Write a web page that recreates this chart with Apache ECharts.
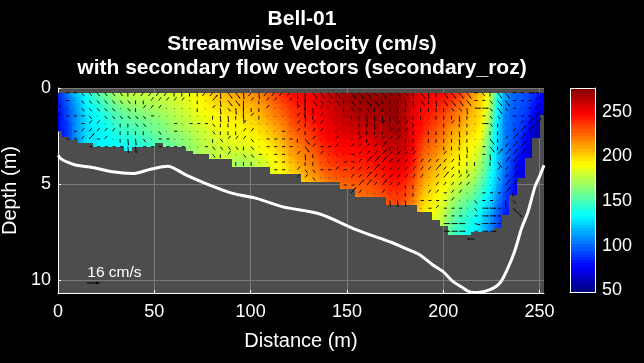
<!DOCTYPE html>
<html>
<head>
<meta charset="utf-8">
<style>html,body{margin:0;padding:0;background:#000}#c{width:644px;height:363px}</style>
<script src="https://cdn.jsdelivr.net/npm/echarts@6/dist/echarts.min.js"></script>
</head>
<body>
<div id="c"></div>
<script>
const titleLines = ["Bell-01", "Streamwise Velocity (cm/s)", "with secondary flow vectors (secondary_roz)"];
const xTicks = [0, 50, 100, 150, 200, 250];
const yTicks = [0, 5, 10];
const barTicks = [50, 100, 150, 200, 250];
const cMin = 48, cMax = 276.5;
const xMax = 252.3, yMax = 10.66;
const firstX = 0.26, stepX = 4, firstD = 0.25, stepD = 0.4, topD = 0.27;

// streamwise velocity (cm/s), one list per ensemble column, surface to bed
const speed = [
[85,82,80,78,78,78],
[100,95,92,90,88,86,85],
[118,112,108,105,104,104,104],
[130,125,122,120,120,120,120,120],
[143,138,134,130,129,128,128,128],
[152,146,140,136,133,131,130,130],
[160,153,147,142,138,135,133,132],
[168,160,153,147,143,139,136,134],
[174,167,159,152,148,143,138,135],
[178,171,163,156,151,146,140,136,136],
[178,172,166,159,154,149,143,138],
[178,174,168,162,157,152,147,142],
[179,175,170,164,160,156,151,148],
[180,176,172,168,163,159,155,152],
[181,178,174,170,166,162,158,155],
[184,180,177,174,170,166,161,158],
[186,183,180,177,173,169,165,162],
[188,186,184,181,177,173,169,166,164],
[192,190,188,185,181,177,174,172,170],
[198,194,191,188,185,181,178,176,174],
[203,199,195,191,188,184,181,178,176,174],
[206,202,197,193,190,186,183,180,178,176],
[208,204,200,195,192,188,185,182,179,176],
[212,207,202,197,193,190,187,184,179,172,166],
[214,209,204,199,195,191,188,184,178,172,168],
[216,211,206,202,198,194,190,186,180,175,172],
[220,215,210,206,201,197,193,190,185,180,176],
[226,221,216,212,207,202,197,194,189,184,180],
[232,227,222,218,212,207,202,199,194,190,186,184],
[240,234,229,224,218,213,208,205,200,196,192,188],
[246,241,236,232,228,223,218,214,209,204,200,196],
[248,244,240,238,234,229,223,219,215,210,206,200],
[250,247,244,242,238,234,230,225,220,216,212,207,204],
[252,250,248,246,243,240,236,231,226,222,218,212,208],
[256,254,252,250,248,245,242,238,233,228,224,218,212],
[260,258,256,254,252,250,247,243,238,234,230,224,218],
[264,262,260,258,256,253,250,246,242,238,233,228,222],
[268,266,264,262,259,255,251,248,244,240,235,230,225,220],
[270,268,266,264,261,257,252,248,245,241,236,231,226,222],
[272,270,268,266,262,258,253,249,246,242,238,233,228,224,220],
[272,271,269,266,263,259,254,250,247,243,240,235,230,226,222],
[272,271,270,267,264,261,256,252,249,246,241,237,232,228,224],
[272,272,270,268,266,263,260,256,253,249,245,241,236,232,228],
[272,272,271,270,268,266,263,260,257,254,250,246,241,236,232,228],
[272,272,271,270,270,268,265,262,259,256,252,248,243,239,235,230],
[268,266,264,262,262,262,260,258,255,252,248,243,238,234,230,224],
[258,256,254,252,251,250,250,248,246,243,238,234,229,225,220,215],
[252,250,248,247,245,243,238,234,230,226,222,218,212,208,204,200,198],
[250,248,246,243,240,236,231,227,223,218,214,210,205,200,197,194,192],
[248,245,241,237,233,229,225,221,216,211,206,202,198,194,190,188,184,182],
[246,242,237,232,228,223,218,213,208,204,200,196,192,188,184,180,176,172,170],
[244,237,231,225,219,213,208,203,199,195,192,188,184,178,172,166,160,155,150],
[238,230,224,218,214,207,202,198,195,191,188,184,178,170,164,157,152,148,144],
[224,218,213,208,205,200,196,192,190,186,182,178,171,164,157,150,144,140,138],
[212,208,206,203,200,197,192,189,185,181,176,170,164,156,150,144,138,134,132],
[202,200,198,196,194,190,184,180,174,168,164,158,152,146,140,134,128,124,122],
[185,180,176,172,165,160,155,152,150,147,144,140,136,130,125,120,114,110,108],
[140,136,132,130,128,126,124,122,122,120,120,118,115,110,106,100,95,92,90],
[112,110,108,106,105,105,105,104,104,102,100,98,95,92,88,85,82],
[100,98,97,96,95,94,94,92,90,88,86,84,82,80],
[96,95,94,92,90,88,85,82,78,74,70,68],
[92,90,88,85,80,76,72,68,65],
[85,82,78,72,68,64,60],
[75,70,66,62]
];

// lowest valid depth (m) of each ensemble column
const lastDepth = [2.24,2.56,2.68,2.86,2.86,3.08,3.08,3.08,3.08,3.27,3.08,3.08,3.08,2.88,3.07,3.07,3.07,3.27,3.45,3.45,3.69,3.69,3.69,4.10,4.10,4.10,4.10,4.10,4.47,4.47,4.47,4.47,4.91,4.91,4.91,4.91,4.91,5.26,5.26,5.66,5.66,5.66,5.66,6.09,6.09,6.09,6.09,6.47,6.47,6.87,7.16,7.66,7.66,7.66,7.47,7.47,7.47,7.3,6.6,5.57,4.69,3.65,2.62,1.42];

// secondary flow vectors (cm/s), one list per depth row; rowFirstColumn gives each row's first column
const rowFirstColumn = [0,0,0,0,0,0,1,4,18,23,28,31,37,38,43,47,50,50,50,54];
const secU = [
[1,5,5,4,4,4,4,4,4,0,-4,-4,-4,-4,-4,0,0,0,0,-4,-4,1,7,7,1,-4,1,-4,-4,-4,-4,1,0,7,7,7,7,1,7,7,7,4,7,4,4,4,1,7,1,0,7,7,7,7,5,4,0,7,7,5,5,10,5,5],
[1,5,1,4,4,4,4,4,4,4,0,0,4,4,4,4,4,1,0,1,8,1,7,7,0,4,0,4,4,1,4,1,0,7,4,4,7,0,7,4,7,7,0,0,0,1,1,7,0,1,7,7,7,7,5,5,4,7,7,5,5,5,4,1],
[4,1,1,4,4,4,4,4,1,4,0,4,4,4,1,1,1,1,0,1,4,1,4,1,0,0,0,4,1,1,1,4,0,1,4,1,1,0,4,4,4,0,0,0,0,0,1,0,0,0,0,4,4,1,10,10,4,7,4,5,1,5,4,4],
[4,5,5,5,4,1,4,4,4,4,4,4,5,1,1,1,1,1,1,1,0,1,1,0,1,4,0,1,1,1,1,4,1,0,4,1,1,1,0,0,1,1,1,1,0,0,0,0,1,0,0,0,1,0,1,5,4,4,1,5,5,5,4,4],
[1,1,1,5,4,4,1,1,0,0,4,4,1,1,1,5,1,5,5,5,4,0,0,0,4,1,1,1,1,1,1,4,0,4,4,1,1,1,1,0,0,1,4,0,4,4,0,1,1,1,0,4,0,0,1,10,4,0,1,1,4,8,8],
[1,1,5,4,4,4,4,4,0,0,0,0,1,4,1,5,1,1,1,1,4,0,0,0,4,4,1,1,1,5,1,4,0,4,4,1,1,1,1,0,0,0,0,4,4,4,0,1,0,0,0,0,1,0,1,1,0,0,1,4,8,8,1],
[5,5,4,8,5,4,1,0,1,1,4,1,5,5,1,1,1,1,1,0,4,4,4,4,4,1,5,5,5,5,0,7,4,1,1,4,1,1,4,0,4,4,4,4,0,0,1,0,0,0,0,1,0,1,1,7,0,4,8,8],
[5,5,5,5,5,1,1,5,5,5,5,5,5,1,1,5,4,4,4,4,0,4,1,5,5,5,5,1,7,4,5,5,4,1,4,4,4,4,8,0,0,0,0,1,1,1,0,0,0,1,1,5,7,0,4,8,8],
[1,1,4,0,4,1,4,4,5,1,5,5,1,4,1,0,4,1,1,1,5,4,4,4,8,4,4,4,4,1,1,1,4,1,1,0,1,5,1,8,8,8,8],
[0,0,0,1,1,5,5,1,1,0,0,1,1,1,5,5,4,8,8,8,4,4,4,4,4,4,4,4,4,0,0,0,1,0,7,8,8,1],
[5,5,1,4,4,4,5,5,4,5,4,4,4,8,4,4,4,4,4,4,4,8,4,4,0,0,1,1,1,4,4,8],
[4,4,4,1,1,1,1,4,4,8,4,4,4,4,4,4,4,1,4,8,4,4,4,1,1,1,4,4,8],
[5,5,8,8,4,8,4,4,0,0,1,1,4,4,4,4,4,1,1,1,1,8,8],
[8,4,1,1,4,1,1,0,0,1,4,4,5,4,4,1,1,5,5,5,8,0],
[1,1,1,1,5,5,5,5,4,1,1,4,5,5,1,1,4],
[1,5,4,5,5,5,1,4,10,10,5,1,14],
[5,5,5,1,5,10,10,5],
[10,10,10,null,9,10,10,5],
[10,10,10,null,5,10,10],
[-12]
];
const secV = [
[1,0,0,5,5,5,5,5,5,6,5,5,5,5,5,6,6,6,6,5,5,10,9,9,10,5,10,5,5,5,5,10,15,9,9,9,9,1,9,9,9,5,9,5,5,5,10,9,10,6,9,9,9,9,0,5,6,9,9,0,0,0,0,0],
[1,0,1,5,5,5,5,5,5,5,6,6,-5,-5,-5,-5,-5,1,6,1,-9,10,9,9,15,-5,6,-5,-5,1,-5,10,15,9,5,5,9,6,9,5,9,9,6,6,6,10,10,9,6,10,9,9,9,9,0,0,5,9,9,0,0,0,-5,1],
[-5,1,1,5,5,5,5,5,1,5,6,-5,-5,-5,1,1,1,1,6,1,-5,10,5,10,15,6,6,-5,1,1,1,-5,15,10,-5,1,1,6,5,5,5,6,6,6,6,6,1,6,6,6,6,5,5,10,0,0,5,9,5,0,1,0,-5,-5],
[-5,0,0,0,5,1,5,5,5,5,5,5,0,1,1,1,1,1,1,1,6,10,10,6,10,-5,6,1,1,1,1,-5,10,6,-5,1,1,1,6,6,10,10,10,10,6,6,6,6,1,6,6,6,10,6,1,0,5,5,1,0,0,0,-5,-5],
[1,1,1,0,-5,-5,1,1,6,6,5,5,1,1,1,0,1,0,0,0,5,6,6,6,-5,1,1,1,1,1,1,-5,6,-5,-5,1,1,1,1,6,6,10,-5,6,-5,-5,6,1,1,1,6,-5,6,6,1,0,5,6,1,1,-5,-9,-9],
[1,1,0,-5,-5,-5,-5,-5,6,6,6,6,1,5,1,0,1,1,1,1,5,6,6,6,-5,-5,1,1,1,0,1,-5,6,-5,-5,1,1,1,1,6,6,6,6,-5,-5,-5,6,1,6,6,6,6,10,6,1,1,6,6,1,-5,-9,-9,1],
[0,0,-5,-9,0,-5,1,6,10,10,5,1,0,0,1,1,1,1,1,6,5,-5,-5,-5,5,1,0,0,0,0,6,9,-5,1,1,-5,1,1,-5,6,-5,-5,-5,-5,6,6,1,6,6,6,6,10,6,1,1,9,6,-5,-9,-9],
[0,0,0,0,0,10,10,0,0,0,0,0,0,1,1,0,5,5,5,5,6,5,1,0,0,0,0,1,9,-5,0,0,-5,1,-5,-5,-5,-5,-9,6,6,6,6,1,1,1,6,6,6,10,1,0,9,6,-5,-9,-9],
[1,1,5,6,-5,1,5,5,0,1,0,0,1,-5,10,6,-5,1,1,1,0,-5,-5,-5,-9,-5,-5,-5,-5,1,1,1,-5,1,10,6,1,0,10,-9,-9,-9,-9],
[6,6,6,1,1,0,0,1,1,6,6,1,1,1,0,0,-5,-9,-9,-9,-5,-5,-5,-5,-5,-5,-5,-5,-5,6,6,6,1,6,9,-9,-9,1],
[0,0,1,-5,5,5,0,0,-5,0,-5,-5,-5,-9,-5,-5,-5,-5,-5,-5,-5,-9,-5,-5,6,6,1,1,1,-5,-5,-9],
[-5,-5,5,1,1,1,1,-5,-5,-9,-5,-5,-5,-5,-5,-5,-5,1,-5,-9,-5,-5,-5,1,1,1,5,-5,-9],
[0,0,-9,-9,-5,-9,-5,-5,6,6,1,1,-5,-5,-5,-5,-5,1,1,1,1,-9,-9],
[-9,-5,1,1,-5,1,1,6,6,1,-5,-5,0,-5,-5,1,1,0,0,0,-9,6],
[10,10,10,1,0,0,0,0,-5,1,1,5,0,0,1,10,5],
[1,0,-5,0,0,0,1,5,0,0,0,1,14],
[0,0,0,1,0,0,0,0],
[0,0,0,null,2,0,0,0],
[0,0,0,null,0,0,0],
[0]
];

// thalweg / bed line
const bedX = [0,1.8,4.9,9.6,17.9,28.3,38.7,47.6,56.9,66.6,78.7,90.7,103,116.7,135.9,155,173.9,181,187.9,194.6,199.8,205,209.6,213.9,218,224.3,229.5,233.6,237.3,240.7,244,247.6,250.3,252.3];
const bedD = [3.5,3.7,3.86,4.02,4.13,4.36,4.45,4.24,4.07,4.53,5.05,5.48,5.74,6.18,6.55,7.38,8.06,8.37,8.68,9.2,9.54,10.06,10.35,10.61,10.64,10.49,10.13,9.35,8.42,7.28,6.44,5.14,4.53,4.02];

const refVector = {x: 15, d: 10.14, u: 16, v: 0, label: "16 cm/s", labelX: 15.2, labelD: 9.6};
const pxPerCms = 0.8, fieldPxPerCms = 0.62;

function jet(v) {
  const n = 64;
  let k = Math.floor((v - cMin) / (cMax - cMin) * n);
  k = Math.max(0, Math.min(n - 1, k));
  const t = (k + 0.5) / n;
  const c = a => Math.round(255 * Math.max(0, Math.min(1, 1.5 - Math.abs(4 * t - a))));
  return 'rgb(' + c(3) + ',' + c(2) + ',' + c(1) + ')';
}
function colAt(i, d) {
  const col = speed[i];
  const f = (d - firstD) / stepD;
  const j0 = Math.max(0, Math.min(col.length - 1, Math.floor(f)));
  const j1 = Math.min(col.length - 1, j0 + 1);
  const s = Math.max(0, Math.min(1, f - j0));
  return col[j0] * (1 - s) + col[j1] * s;
}
function shade(x, d) {
  const f = (x - firstX) / stepX;
  const i0 = Math.max(0, Math.min(speed.length - 1, Math.floor(f)));
  const i1 = Math.min(speed.length - 1, i0 + 1);
  const t = Math.max(0, Math.min(1, f - i0));
  return colAt(i0, d) * (1 - t) + colAt(i1, d) * t;
}

const cellData = [];
speed.forEach((col, i) => col.forEach((v, j) => cellData.push([firstX + i * stepX, firstD + j * stepD, v, i, j])));

const vecData = [];
secU.forEach((row, j) => row.forEach((u, k) => {
  const v = secV[j][k];
  if (u === null || u === undefined || v === undefined) return;
  vecData.push([firstX + (rowFirstColumn[j] + k) * stepX, firstD + j * stepD, u, v]);
}));

function renderCell(params, api) {
  const x = api.value(0), d = api.value(1), i = api.value(3), j = api.value(4);
  const bed = lastDepth[i];
  const isLast = j === speed[i].length - 1;
  const xa = Math.max(0, x - stepX / 2), xb = Math.min(xMax, x + stepX / 2);
  const da = Math.max(topD, d - stepD / 2);
  const db = isLast ? bed : Math.min(bed, d + stepD / 2);
  if (db <= da) return null;
  const kids = [];
  const nx = 4, ny = Math.max(1, Math.ceil((db - da) / (stepD / 4)));
  for (let a = 0; a < nx; a++) {
    const x0 = xa + (xb - xa) * a / nx, x1 = xa + (xb - xa) * (a + 1) / nx;
    const px0 = Math.round(api.coord([x0, 0])[0]), px1 = Math.round(api.coord([x1, 0])[0]);
    if (px1 <= px0) continue;
    for (let b = 0; b < ny; b++) {
      const d0 = da + (db - da) * b / ny, d1 = da + (db - da) * (b + 1) / ny;
      const py0 = Math.round(api.coord([0, d0])[1]), py1 = Math.round(api.coord([0, d1])[1]);
      if (py1 <= py0) continue;
      kids.push({type: 'rect', silent: true,
        shape: {x: px0, y: py0, width: px1 - px0, height: py1 - py0},
        style: {fill: jet(shade((x0 + x1) / 2, (d0 + d1) / 2))}});
    }
  }
  return {type: 'group', silent: true, children: kids};
}
function arrowShape(api, x, d, u, v, scale, headScale, width) {
  const p = api.coord([x, d]);
  const dx = u * scale, dy = v * scale;
  const a = [p[0], p[1]], b = [p[0] + dx, p[1] + dy];
  const len = Math.hypot(dx, dy) || 1, ux = dx / len, uy = dy / len;
  const h = Math.min(2.2, len * 0.25) * headScale;
  return {type: 'group', silent: true, children: [
    {type: 'line', silent: true, shape: {x1: a[0], y1: a[1], x2: b[0], y2: b[1]}, style: {stroke: '#000', lineWidth: width}},
    {type: 'polygon', silent: true, shape: {points: [b, [b[0] - ux * h * 1.6 - uy * h * 0.55, b[1] - uy * h * 1.6 + ux * h * 0.55], [b[0] - ux * h * 1.6 + uy * h * 0.55, b[1] - uy * h * 1.6 - ux * h * 0.55]]}, style: {fill: '#000'}}
  ]};
}
function renderVec(params, api) {
  return arrowShape(api, api.value(0), api.value(1), api.value(2), api.value(3), fieldPxPerCms, 0.6, 0.9);
}

const bandStep = (cMax - cMin) / 64;
const bands = [];
for (let k = 0; k < 64; k++) bands.push([cMin + k * bandStep, cMin + (k + 1) * bandStep]);

const tickFont = {color: '#fff', fontFamily: 'Liberation Sans', fontSize: 18};
const nameFont = {color: '#fff', fontFamily: 'Liberation Sans', fontSize: 20};
const chart = echarts.init(document.getElementById('c'), null, {renderer: 'canvas'});
chart.setOption({
  backgroundColor: '#000',
  animation: false,
  title: titleLines.map((t, i) => ({
    text: t, left: 297, top: [4, 29, 53][i], textAlign: 'center',
    textStyle: {color: '#fff', fontFamily: 'Liberation Sans', fontWeight: 'bold', fontSize: 21}
  })),
  grid: [
    {left: 58, top: 88, width: 486, height: 205, show: true, backgroundColor: '#4d4d4d', borderWidth: 0, outerBoundsMode: 'none', containLabel: false},
    {left: 570, top: 88, width: 25, height: 204, show: false, outerBoundsMode: 'none', containLabel: false}
  ],
  xAxis: [
    {type: 'value', gridIndex: 0, min: 0, max: xMax, interval: 50,
     name: 'Distance (m)', nameLocation: 'middle', nameGap: 38, nameTextStyle: nameFont,
     axisLine: {show: true, onZero: false, lineStyle: {color: '#fff', width: 1}},
     axisTick: {show: true, inside: true, length: 3, customValues: xTicks, lineStyle: {color: '#fff'}},
     axisLabel: Object.assign({customValues: xTicks, margin: 10}, tickFont),
     splitLine: {show: true, lineStyle: {color: '#7a7a7a', width: 1}}},
    {type: 'value', gridIndex: 1, min: 0, max: 1, axisLine: {show: true, onZero: false, lineStyle: {color: '#fff'}},
     axisTick: {show: false}, axisLabel: {show: false}, splitLine: {show: false}}
  ],
  yAxis: [
    {type: 'value', gridIndex: 0, min: 0, max: yMax, inverse: true, interval: 5,
     name: 'Depth (m)', nameLocation: 'middle', nameGap: 33, nameTextStyle: nameFont,
     axisLine: {show: true, onZero: false, lineStyle: {color: '#fff', width: 1}},
     axisTick: {show: true, inside: true, length: 3, customValues: yTicks, lineStyle: {color: '#fff'}},
     axisLabel: Object.assign({customValues: yTicks, margin: 7}, tickFont),
     splitLine: {show: true, lineStyle: {color: '#7a7a7a', width: 1}}},
    {type: 'value', gridIndex: 1, min: cMin, max: cMax, position: 'right',
     axisLine: {show: true, onZero: false, lineStyle: {color: '#fff'}},
     axisTick: {show: true, inside: true, length: 2, customValues: barTicks, lineStyle: {color: '#fff'}},
     axisLabel: Object.assign({customValues: barTicks, margin: 7}, tickFont),
     splitLine: {show: false}}
  ],
  series: [
    {type: 'custom', name: 'Streamwise velocity', xAxisIndex: 0, yAxisIndex: 0, silent: true, clip: false,
     encode: {x: 0, y: 1}, data: cellData, renderItem: renderCell, z: 2},
    {type: 'custom', name: 'Secondary flow', xAxisIndex: 0, yAxisIndex: 0, silent: true, clip: false,
     encode: {x: 0, y: 1}, data: vecData, renderItem: renderVec, z: 3},
    {type: 'line', name: 'Bed', xAxisIndex: 0, yAxisIndex: 0, silent: true, showSymbol: false, clip: false, smooth: 0.3,
     data: bedX.map((x, i) => [x, bedD[i]]), lineStyle: {color: '#fff', width: 3}, z: 4},
    {type: 'custom', name: 'Reference vector', xAxisIndex: 0, yAxisIndex: 0, silent: true, clip: false,
     encode: {x: 0, y: 1}, data: [[refVector.x, refVector.d, refVector.u, refVector.v]],
     renderItem: (p, api) => {
       const g = arrowShape(api, api.value(0), api.value(1), api.value(2), api.value(3), pxPerCms, 1, 1);
       const q = api.coord([refVector.labelX, refVector.labelD]);
       g.children.push({type: 'text', silent: true, x: q[0], y: q[1],
         style: {text: refVector.label, fill: '#fff', fontFamily: 'Liberation Sans', fontSize: 15.5, textAlign: 'left', textVerticalAlign: 'middle'}});
       return g;
     }, z: 5},
    {type: 'custom', name: 'Colorbar', xAxisIndex: 1, yAxisIndex: 1, silent: true,
     encode: {y: 0}, data: bands, renderItem: (p, api) => {
       const lo = api.value(0), hi = api.value(1);
       const a = api.coord([0, lo]), b = api.coord([1, hi]);
       return {type: 'rect', silent: true,
         shape: {x: a[0], y: Math.round(b[1]), width: b[0] - a[0], height: Math.round(a[1]) - Math.round(b[1])},
         style: {fill: jet((lo + hi) / 2)}};
     }, z: 2},
    {type: 'custom', name: 'Colorbar frame', xAxisIndex: 1, yAxisIndex: 1, silent: true,
     encode: {y: 0}, data: [[cMin, cMax]], renderItem: (p, api) => {
       const a = api.coord([0, api.value(0)]), b = api.coord([1, api.value(1)]);
       return {type: 'rect', silent: true, shape: {x: a[0] + .5, y: b[1] + .5, width: b[0] - a[0], height: a[1] - b[1]},
         style: {fill: null, stroke: '#fff', lineWidth: 1}};
     }, z: 6}
  ]
});
</script>
</body>
</html>
